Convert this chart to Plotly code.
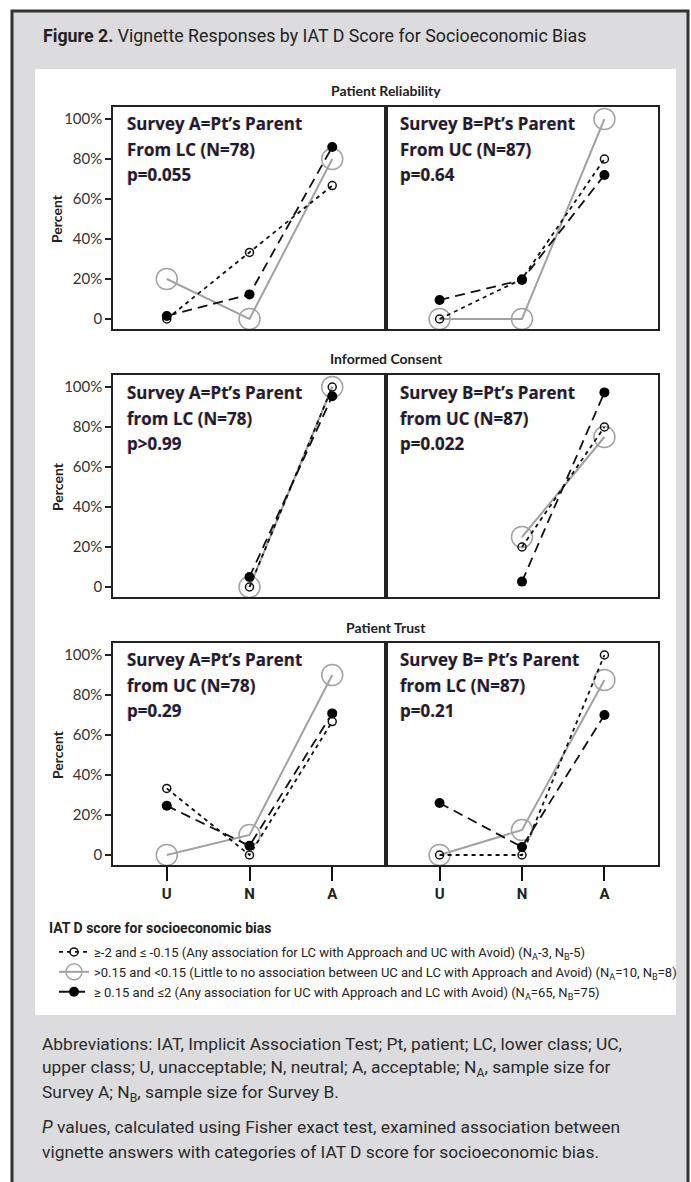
import plotly.graph_objects as go
from plotly.subplots import make_subplots

W, H = 691, 1182

# ---------------- data ----------------
categories = ["U", "N", "A"]
cat_pos = [1, 2, 3]

series_names = [
    "≥-2 and ≤ -0.15 (Any association for LC with Approach and UC with Avoid) (N<sub>A</sub>-3, N<sub>B</sub>-5)",
    ">0.15 and <0.15 (Little to no association between UC and LC with Approach and Avoid) (N<sub>A</sub>=10, N<sub>B</sub>=8)",
    "≥ 0.15 and ≤2 (Any association for UC with Approach and LC with Avoid) (N<sub>A</sub>=65, N<sub>B</sub>=75)",
]

panel_titles = ["Patient Reliability", "Informed Consent", "Patient Trust"]

# percent values in order U, N, A
reliability_A_neg = [0, 33.3, 66.7]
reliability_A_neutral = [20, 0, 80]
reliability_A_pos = [1.5, 12.3, 86]
reliability_B_neg = [0, 20, 80]
reliability_B_neutral = [0, 0, 100]
reliability_B_pos = [9.5, 19.5, 72]

consent_A_neg = [None, 0, 100]
consent_A_neutral = [None, 0, 100]
consent_A_pos = [None, 5, 95.4]
consent_B_neg = [None, 20, 80]
consent_B_neutral = [None, 25, 75]
consent_B_pos = [None, 2.7, 97.3]

trust_A_neg = [33.3, 0, 66.7]
trust_A_neutral = [0, 10, 90]
trust_A_pos = [24.6, 4.6, 70.8]
trust_B_neg = [0, 0, 100]
trust_B_neutral = [0, 12.5, 87.5]
trust_B_pos = [26, 4, 70]

panel_text = [
    [["Survey A=Pt’s Parent", "From LC (N=78)", "p=0.055"],
     ["Survey B=Pt’s Parent", "From UC (N=87)", "p=0.64"]],
    [["Survey A=Pt’s Parent", "from LC (N=78)", "p>0.99"],
     ["Survey B=Pt’s Parent", "from UC (N=87)", "p=0.022"]],
    [["Survey A=Pt’s Parent", "from UC (N=78)", "p=0.29"],
     ["Survey B= Pt’s Parent", "from LC (N=87)", "p=0.21"]],
]

y_tickvals = [0, 20, 40, 60, 80, 100]
y_ticktext = ["0", "20%", "40%", "60%", "80%", "100%"]

legend_title = "IAT D score for socioeconomic bias"
fig_title = "<b>Figure 2.</b> Vignette Responses by IAT D Score for Socioeconomic Bias"
caption_lines = [
    "Abbreviations: IAT, Implicit Association Test; Pt, patient; LC, lower class; UC,",
    "upper class; U, unacceptable; N, neutral; A, acceptable; N<sub>A</sub>, sample size for",
    "Survey A; N<sub>B</sub>, sample size for Survey B.",
    "<i>P</i> values, calculated using Fisher exact test, examined association between",
    "vignette answers with categories of IAT D score for socioeconomic bias.",
]

panels = [
    [(reliability_A_neg, reliability_A_neutral, reliability_A_pos),
     (reliability_B_neg, reliability_B_neutral, reliability_B_pos)],
    [(consent_A_neg, consent_A_neutral, consent_A_pos),
     (consent_B_neg, consent_B_neutral, consent_B_pos)],
    [(trust_A_neg, trust_A_neutral, trust_A_pos),
     (trust_B_neg, trust_B_neutral, trust_B_pos)],
]

# ---------------- styles ----------------
NARROW = "Liberation Sans Narrow, Arial Narrow, Roboto, Liberation Sans, sans-serif"
CHART = "Lato, Open Sans, sans-serif"
PANEL_FONT = "Open Sans, Lato, sans-serif"
GRAY = "#a2a2a2"

def px_x(p):
    return p / W

def px_y(p):
    return 1 - p / H

fig = make_subplots(rows=3, cols=2, horizontal_spacing=0, vertical_spacing=0)

for r in range(3):
    for c in range(2):
        neg, neu, pos = panels[r][c]
        show = (r == 0 and c == 0)
        fig.add_trace(go.Scatter(
            x=cat_pos, y=neu, mode="lines+markers", name=series_names[1],
            legendrank=2, legendgroup="neu", showlegend=show,
            line=dict(color=GRAY, width=2),
            marker=dict(symbol="circle-open", size=21, color=GRAY, line=dict(width=1.5, color=GRAY)),
        ), row=r + 1, col=c + 1)
        fig.add_trace(go.Scatter(
            x=cat_pos, y=neg, mode="lines+markers", name=series_names[0],
            legendrank=1, legendgroup="neg", showlegend=show,
            line=dict(color="#111", width=1.8, dash="4px,4px"),
            marker=dict(symbol="circle-open", size=8, color="#111", line=dict(width=1.5, color="#111")),
        ), row=r + 1, col=c + 1)
        fig.add_trace(go.Scatter(
            x=cat_pos, y=pos, mode="lines+markers", name=series_names[2],
            legendrank=3, legendgroup="pos", showlegend=show,
            line=dict(color="#111", width=1.8, dash="10px,6px"),
            marker=dict(symbol="circle", size=10, color="#000"),
        ), row=r + 1, col=c + 1)

# panel geometry (pixels)
x_domains = [(113, 386), (386, 658)]
y_tops = [107, 375, 643]
panel_h = 222

annotations = []
for r in range(3):
    top = y_tops[r]
    for c in range(2):
        idx = r * 2 + c + 1
        xa = "xaxis" if idx == 1 else f"xaxis{idx}"
        ya = "yaxis" if idx == 1 else f"yaxis{idx}"
        x0, x1 = x_domains[c]
        fig.layout[xa].update(
            domain=[px_x(x0), px_x(x1)], range=[0.35, 3.65],
            showgrid=False, zeroline=False, showline=True, mirror=True,
            linecolor="#222", linewidth=1.5,
            tickvals=cat_pos, ticktext=categories,
            ticks="outside" if r == 2 else "", ticklen=14, tickwidth=2, tickcolor="#111",
            showticklabels=(r == 2),
            tickfont=dict(family=NARROW, size=15, color="#222", weight="bold"),
        )
        fig.layout[ya].update(
            domain=[px_y(top + panel_h), px_y(top)], range=[-5, 106],
            showgrid=False, zeroline=False, showline=True, mirror=True,
            linecolor="#222", linewidth=1.5,
            tickvals=y_tickvals, ticktext=y_ticktext,
            ticks="outside" if c == 0 else "", ticklen=6, tickwidth=1.5, tickcolor="#222",
            showticklabels=(c == 0),
            tickfont=dict(family=CHART, size=15, color="#333"),
        )
        lines = panel_text[r][c]
        xd = "x domain" if idx == 1 else f"x{idx} domain"
        yref = "y" if idx == 1 else f"y{idx}"
        for k, (txt, yv) in enumerate(zip(lines, [97.5, 84.5, 72])):
            annotations.append(dict(
                text=txt, xref=xd, yref=yref, x=0.045, y=yv,
                xanchor="left", yanchor="middle", showarrow=False,
                font=dict(family=PANEL_FONT, size=17, color="#1b1b3c", weight="bold",
                          shadow="-0.7px 0px 0px rgba(225,150,50,0.55)"),
            ))
    # panel title
    annotations.append(dict(
        text=f"<b>{panel_titles[r]}</b>", xref="paper", yref="paper",
        x=px_x(386), y=px_y(top - 16), xanchor="center", yanchor="middle",
        showarrow=False, font=dict(family=CHART, size=14, color="#222"),
    ))
    # y-axis title
    annotations.append(dict(
        text="<b>Percent</b>", xref="paper", yref="paper", textangle=-90,
        x=px_x(57), y=px_y(top + 112), xanchor="center", yanchor="middle",
        showarrow=False, font=dict(family=CHART, size=14, color="#222"),
    ))

# figure title
annotations.append(dict(
    text=fig_title, xref="paper", yref="paper", x=px_x(41), y=px_y(36),
    xanchor="left", yanchor="middle", showarrow=False,
    font=dict(family=NARROW, size=17.8, color="#222"),
))

# legend heading
annotations.append(dict(
    text=f"<b>{legend_title}</b>", xref="paper", yref="paper", x=px_x(47), y=px_y(928),
    xanchor="left", yanchor="middle", showarrow=False,
    font=dict(family=NARROW, size=14, color="#222"),
))

# caption
for txt, py in zip(caption_lines, [1044, 1068.5, 1093, 1127, 1152]):
    annotations.append(dict(
        text=txt, xref="paper", yref="paper", x=px_x(40), y=px_y(py),
        xanchor="left", yanchor="middle", showarrow=False,
        font=dict(family=NARROW, size=17.4, color="#2a2a2a"),
    ))

shapes = [
    dict(type="rect", xref="paper", yref="paper", layer="below",
         x0=px_x(12), x1=px_x(688), y0=px_y(1195), y1=px_y(11),
         fillcolor="#dcdcde", line=dict(color="#333", width=3)),
    dict(type="rect", xref="paper", yref="paper", layer="below",
         x0=px_x(35), x1=px_x(676), y0=px_y(1015), y1=px_y(69),
         fillcolor="#ffffff", line=dict(width=0)),
]

fig.update_layout(
    width=W, height=H,
    margin=dict(l=0, r=0, t=0, b=0),
    paper_bgcolor="#ffffff", plot_bgcolor="rgba(0,0,0,0)",
    annotations=annotations, shapes=shapes,
    showlegend=True,
    legend=dict(
        x=px_x(54), y=px_y(937), xanchor="left", yanchor="top",
        bgcolor="rgba(0,0,0,0)", borderwidth=0,
        font=dict(family=NARROW, size=13, color="#222"),
        itemwidth=30, traceorder="grouped", tracegroupgap=0,
    ),
)

fig.write_html("out.html", config={"displayModeBar": False},
               post_script="document.body.style.margin='0';")
